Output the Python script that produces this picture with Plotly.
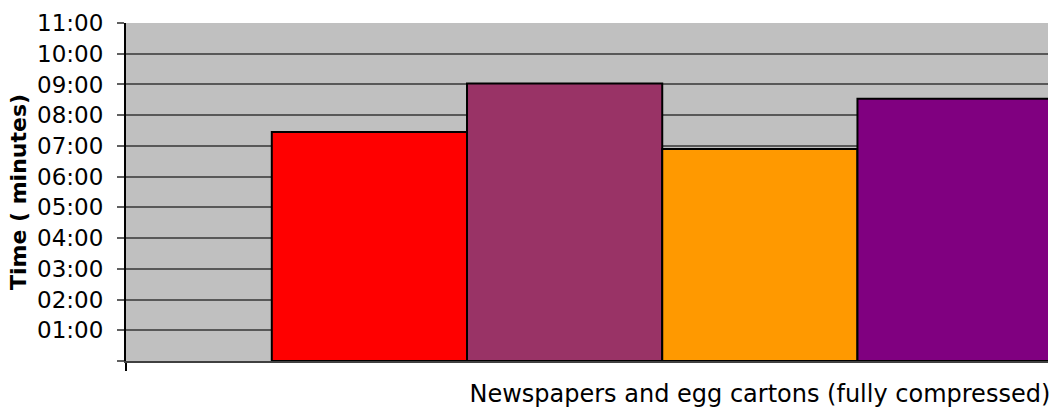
import plotly.graph_objects as go

# Single category shown on the x axis
categories = ["Newspapers and egg cartons (fully compressed)"]

# Times per run, written as mm:ss (the last run has no reading)
series_names = ["Run 1", "Run 2", "Run 3", "Run 4", "Run 5"]
series_times = ["07:27", "09:02", "06:54", "08:32", None]
series_colors = ["#FF0000", "#993366", "#FF9900", "#800080", "#0000FF"]

# Y axis ticks in whole minutes
tick_minutes = [0, 1, 2, 3, 4, 5, 6, 7, 8, 9, 10, 11]
tick_labels = ["", "01:00", "02:00", "03:00", "04:00", "05:00", "06:00",
               "07:00", "08:00", "09:00", "10:00", "11:00"]


def to_minutes(text):
    if text is None:
        return None
    mm, ss = text.split(":")
    return int(mm) + int(ss) / 60.0


fig = go.Figure()
for name, t, color in zip(series_names, series_times, series_colors):
    fig.add_trace(go.Bar(
        x=categories,
        y=[to_minutes(t)],
        name=name,
        marker=dict(color=color, line=dict(color="#000000", width=2)),
        hovertext=[t],
    ))

fig.update_layout(
    width=1050,
    height=415,
    margin=dict(l=126, r=0, t=23, b=54),
    paper_bgcolor="#FFFFFF",
    plot_bgcolor="#C0C0C0",
    barmode="group",
    bargap=0.23,
    bargroupgap=0,
    showlegend=False,
    font=dict(family="DejaVu Sans", color="#000000"),
)

fig.update_xaxes(
    type="category",
    range=[-0.5, 0.2273],
    showgrid=False,
    showline=True,
    linecolor="#404040",
    linewidth=2,
    ticks="outside",
    tickson="boundaries",
    ticklen=8,
    tickwidth=2,
    tickcolor="#000000",
    tickfont=dict(family="DejaVu Sans", size=24, color="#000000"),
    ticklabelstandoff=10,
)

fig.update_yaxes(
    range=[0, 11],
    tickvals=tick_minutes,
    ticktext=tick_labels,
    showgrid=True,
    gridcolor="#585858",
    gridwidth=2,
    zeroline=False,
    showline=True,
    linecolor="#000000",
    linewidth=2,
    ticks="outside",
    ticklen=7,
    tickwidth=2,
    tickcolor="#606060",
    tickfont=dict(family="DejaVu Sans", size=23, color="#000000"),
    ticklabelstandoff=9,
    title=dict(
        text="Time ( minutes)",
        font=dict(family="DejaVu Sans", size=22, color="#000000", weight="bold"),
        standoff=4,
    ),
)

fig.write_html("out.html")
